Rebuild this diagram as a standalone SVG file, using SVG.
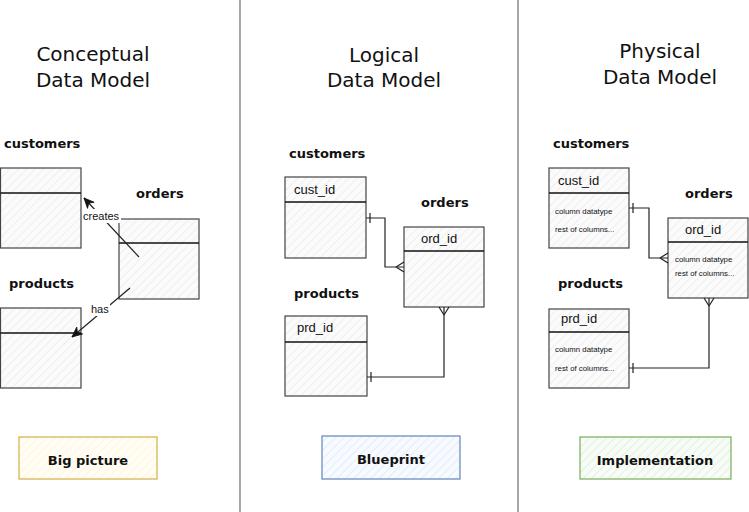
<svg xmlns="http://www.w3.org/2000/svg" width="749" height="512" viewBox="0 0 749 512">
<defs>
<pattern id="hGray" width="6" height="6" patternUnits="userSpaceOnUse" patternTransform="rotate(45)"><rect width="6" height="6" fill="#fbfbfb"/><line x1="0" y1="0" x2="0" y2="6" stroke="#e3e3e3" stroke-width="1"/></pattern>
<pattern id="hYellow" width="6" height="6" patternUnits="userSpaceOnUse" patternTransform="rotate(45)"><rect width="6" height="6" fill="#fffdf5"/><line x1="0" y1="0" x2="0" y2="6" stroke="#fff0c4" stroke-width="1.2"/></pattern>
<pattern id="hBlue" width="6" height="6" patternUnits="userSpaceOnUse" patternTransform="rotate(45)"><rect width="6" height="6" fill="#f7faff"/><line x1="0" y1="0" x2="0" y2="6" stroke="#d6e4fa" stroke-width="1.2"/></pattern>
<pattern id="hGreen" width="6" height="6" patternUnits="userSpaceOnUse" patternTransform="rotate(45)"><rect width="6" height="6" fill="#f8fcf7"/><line x1="0" y1="0" x2="0" y2="6" stroke="#d3e8d1" stroke-width="1.2"/></pattern>
<marker id="one" viewBox="-12 -7 14 14" refX="0" refY="0" markerWidth="14" markerHeight="14" markerUnits="userSpaceOnUse" orient="auto-start-reverse"><path d="M-4 -5 L-4 5" stroke="#222" stroke-width="1.2" fill="none"/></marker>
<marker id="many" viewBox="-12 -7 14 14" refX="0" refY="0" markerWidth="14" markerHeight="14" markerUnits="userSpaceOnUse" orient="auto-start-reverse"><path d="M-8 0 L0 -5 M-8 0 L0 5" stroke="#222" stroke-width="1.2" fill="none"/></marker>
<marker id="arrow" viewBox="-12 -6 14 12" refX="0" refY="0" markerWidth="14" markerHeight="12" markerUnits="userSpaceOnUse" orient="auto"><path d="M0 0 L-10 -4.5 L-7 0 L-10 4.5 Z" fill="#111" stroke="#111" stroke-width="0.8"/></marker>
</defs>
<style>
.title{font-family:"DejaVu Sans",sans-serif;font-size:20px;fill:#111;text-anchor:middle}
.lbl{font-family:"DejaVu Sans",sans-serif;font-size:13px;font-weight:bold;fill:#111}
.tbl{fill:url(#hGray);stroke:#444;stroke-width:1.2}
.hdr{stroke:#111;stroke-width:1.3}
.fld{font-family:"Liberation Sans",Arial,sans-serif;font-size:13px;fill:#111}
.sm{font-family:"Liberation Sans",Arial,sans-serif;font-size:7.8px;fill:#111}
.edge{fill:none;stroke:#222;stroke-width:1.2}
.elbl{font-family:"Liberation Sans",Arial,sans-serif;font-size:11px;fill:#111}
.sep{stroke:#777;stroke-width:1.3}
.tag{font-family:"DejaVu Sans",sans-serif;font-size:13px;font-weight:bold;fill:#111;text-anchor:middle}
</style>
<rect width="749" height="512" fill="#ffffff"/>
<line class="sep" x1="240" y1="0" x2="240" y2="512"/>
<line class="sep" x1="518" y1="0" x2="518" y2="512"/>

<text class="title" x="93" y="61">Conceptual</text>
<text class="title" x="93" y="87">Data Model</text>
<text class="title" x="384" y="62">Logical</text>
<text class="title" x="384" y="87">Data Model</text>
<text class="title" x="660" y="58">Physical</text>
<text class="title" x="660" y="84">Data Model</text>

<g id="c-customers">
<text class="lbl" x="4" y="148">customers</text>
<rect class="tbl" x="0.5" y="168" width="80.5" height="80"/>
<line class="hdr" x1="0.5" y1="193" x2="81" y2="193"/>
</g>
<g id="c-orders">
<text class="lbl" x="136" y="198">orders</text>
<rect class="tbl" x="119" y="219" width="80" height="80"/>
<line class="hdr" x1="119" y1="243" x2="199" y2="243"/>
</g>
<g id="c-products">
<text class="lbl" x="9" y="288">products</text>
<rect class="tbl" x="0.5" y="308" width="80.5" height="80"/>
<line class="hdr" x1="0.5" y1="333" x2="81" y2="333"/>
</g>

<g id="l-customers">
<text class="lbl" x="289" y="158">customers</text>
<rect class="tbl" x="285" y="177" width="81" height="81"/>
<line class="hdr" x1="285" y1="202" x2="366" y2="202"/>
<text class="fld" x="294" y="194">cust_id</text>
</g>
<g id="l-orders">
<text class="lbl" x="421" y="207">orders</text>
<rect class="tbl" x="404" y="227" width="80" height="80"/>
<line class="hdr" x1="404" y1="251" x2="484" y2="251"/>
<text class="fld" x="421" y="243">ord_id</text>
</g>
<g id="l-products">
<text class="lbl" x="294" y="298">products</text>
<rect class="tbl" x="285" y="316" width="82" height="80"/>
<line class="hdr" x1="285" y1="342" x2="367" y2="342"/>
<text class="fld" x="297" y="332">prd_id</text>
</g>

<g id="p-customers">
<text class="lbl" x="553" y="148">customers</text>
<rect class="tbl" x="549" y="168" width="80" height="80"/>
<line class="hdr" x1="549" y1="193" x2="629" y2="193"/>
<text class="fld" x="558" y="185">cust_id</text>
<text class="sm" x="555" y="214">column datatype</text>
<text class="sm" x="555" y="232">rest of columns...</text>
</g>
<g id="p-orders">
<text class="lbl" x="685" y="198">orders</text>
<rect class="tbl" x="668" y="218" width="80" height="80"/>
<line class="hdr" x1="668" y1="242" x2="748" y2="242"/>
<text class="fld" x="685" y="234">ord_id</text>
<text class="sm" x="675" y="262">column datatype</text>
<text class="sm" x="675" y="276">rest of columns...</text>
</g>
<g id="p-products">
<text class="lbl" x="558" y="288">products</text>
<rect class="tbl" x="549" y="309" width="80" height="79"/>
<line class="hdr" x1="549" y1="332" x2="629" y2="332"/>
<text class="fld" x="561" y="323">prd_id</text>
<text class="sm" x="555" y="352">column datatype</text>
<text class="sm" x="555" y="371">rest of columns...</text>
</g>

<g id="connectors">
<path class="edge" d="M139 257 L84 198" marker-end="url(#arrow)"/>
<rect x="82" y="209" width="39" height="14" fill="#fff"/>
<text class="elbl" x="83" y="220">creates</text>
<path class="edge" d="M130 288 L72 337" marker-end="url(#arrow)"/>
<rect x="89" y="302" width="21" height="14" fill="#fff"/>
<text class="elbl" x="91" y="313">has</text>
<path class="edge" d="M366 218 H385 V267 H404" marker-start="url(#one)" marker-end="url(#many)"/>
<path class="edge" d="M367 377 H444 V307" marker-start="url(#one)" marker-end="url(#many)"/>
<path class="edge" d="M629 208 H649 V258 H668" marker-start="url(#one)" marker-end="url(#many)"/>
<path class="edge" d="M629 368 H709 V298" marker-start="url(#one)" marker-end="url(#many)"/>
</g>

<g id="tag-big-picture">
<rect x="19" y="437" width="138" height="42" fill="url(#hYellow)" stroke="#d6b656" stroke-width="1.3"/>
<text class="tag" x="88" y="465">Big picture</text>
</g>
<g id="tag-blueprint">
<rect x="322" y="436" width="138" height="43" fill="url(#hBlue)" stroke="#6c8ebf" stroke-width="1.3"/>
<text class="tag" x="391" y="464">Blueprint</text>
</g>
<g id="tag-implementation">
<rect x="580" y="437" width="151" height="42" fill="url(#hGreen)" stroke="#82b366" stroke-width="1.3"/>
<text class="tag" x="655" y="465">Implementation</text>
</g>
</svg>
